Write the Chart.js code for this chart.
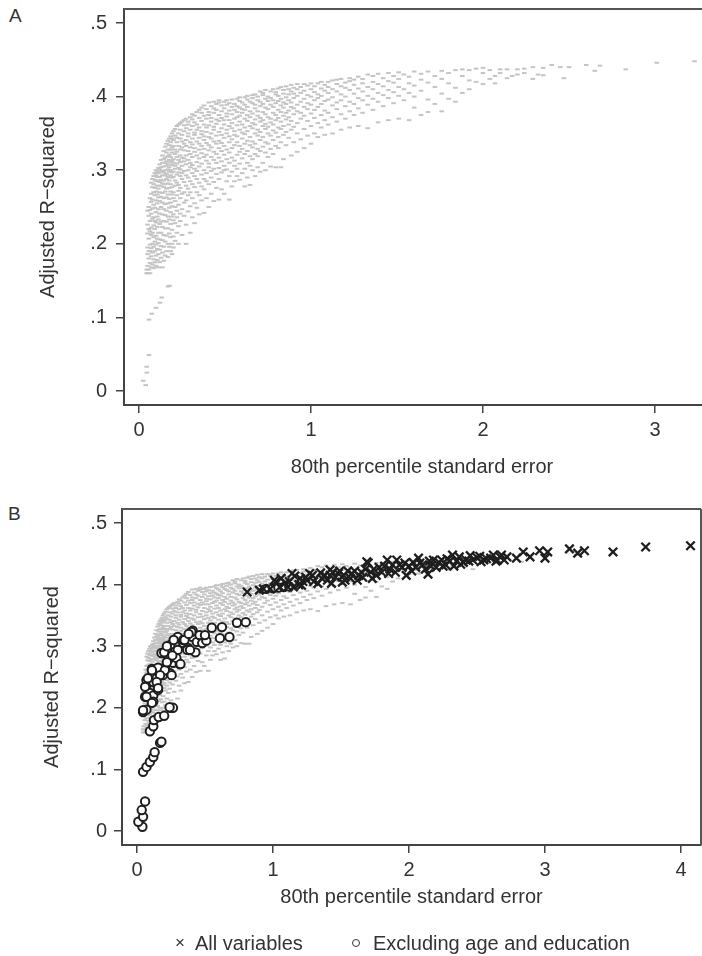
<!DOCTYPE html>
<html>
<head>
<meta charset="utf-8">
<script src="https://cdn.jsdelivr.net/npm/chart.js@4.4.1/dist/chart.umd.min.js"></script>
<style>
  body { margin: 0; width: 702px; height: 956px; overflow: hidden; background: #fff; position: relative;
         font-family: "Liberation Sans", Arial, sans-serif; color: #333; }
  .panel { position: absolute; font-size: 19px; }
  .lg { position: absolute; font-size: 20px; line-height: 24px; top: 931px; }
  .cross { position: absolute; top: 932px; font-size: 17px; line-height: 22px; }
  .ring { position: absolute; top: 939px; width: 6px; height: 6px; border: 1.6px solid #333; border-radius: 50%; }
</style>
</head>
<body>
<div class="panel" style="left:9px;top:5px">A</div>
<div style="position:absolute;left:0;top:0;width:702px;height:480px;overflow:hidden">
  <canvas id="chartA" width="720" height="480"></canvas>
</div>
<div class="panel" style="left:8px;top:503px">B</div>
<canvas id="chartB" width="702" height="476" style="position:absolute;left:0;top:480px"></canvas>
<span class="cross" style="left:175px">×</span><span class="lg" style="left:195px">All variables</span>
<span class="ring" style="left:352px"></span><span class="lg" style="left:373px">Excluding age and education</span>
<script>
// every model: [x, adjusted R-squared values of the models at that x]
const allModels = [
  [0.025, [0.014]], [0.039, [0.008]], [0.045, [0.025, 0.033, 0.16, 0.165]],
  [0.058, [0.049, 0.097]], [0.074, [0.105]], [0.099, [0.113]], [0.122, [0.12]],
  [0.132, [0.127]], [0.169, [0.142]], [0.178, [0.143]],
  [0.050, [0.16, 0.17, 0.186, 0.195, 0.214, 0.226, 0.245]],
  [0.057, [0.165, 0.18, 0.19, 0.207, 0.22, 0.238, 0.25]],
  [0.064, [0.16, 0.174, 0.19, 0.199, 0.217, 0.231, 0.246, 0.262]],
  [0.071, [0.168, 0.183, 0.194, 0.212, 0.222, 0.241, 0.257, 0.268, 0.283]],
  [0.078, [0.172, 0.188, 0.2, 0.215, 0.234, 0.248, 0.26, 0.277, 0.288]],
  [0.085, [0.167, 0.179, 0.196, 0.209, 0.225, 0.236, 0.253, 0.27, 0.281, 0.292]],
  [0.092, [0.175, 0.19, 0.203, 0.22, 0.231, 0.249, 0.266, 0.276, 0.287, 0.296]],
  [0.099, [0.17, 0.184, 0.199, 0.211, 0.229, 0.243, 0.259, 0.271, 0.285, 0.293, 0.3]],
  [0.106, [0.178, 0.193, 0.207, 0.223, 0.237, 0.255, 0.267, 0.279, 0.291, 0.298]],
  [0.113, [0.168, 0.186, 0.201, 0.215, 0.233, 0.247, 0.263, 0.275, 0.286, 0.296, 0.303]],
  [0.120, [0.175, 0.192, 0.206, 0.227, 0.241, 0.258, 0.27, 0.284, 0.291, 0.301, 0.308]],
  [0.128, [0.181, 0.197, 0.215, 0.23, 0.25, 0.264, 0.279, 0.287, 0.298, 0.304, 0.314]],
  [0.136, [0.168, 0.188, 0.205, 0.223, 0.24, 0.256, 0.269, 0.282, 0.293, 0.299, 0.31, 0.32]],
  [0.144, [0.177, 0.196, 0.212, 0.231, 0.247, 0.262, 0.277, 0.286, 0.297, 0.305, 0.315, 0.326]],
  [0.152, [0.184, 0.203, 0.221, 0.239, 0.254, 0.271, 0.281, 0.293, 0.3, 0.31, 0.317, 0.332]],
  [0.160, [0.19, 0.211, 0.23, 0.245, 0.263, 0.275, 0.288, 0.295, 0.306, 0.312, 0.324, 0.336]],
  [0.168, [0.182, 0.2, 0.221, 0.237, 0.255, 0.267, 0.282, 0.291, 0.301, 0.308, 0.319, 0.328, 0.34]],
  [0.176, [0.196, 0.214, 0.233, 0.249, 0.261, 0.276, 0.286, 0.298, 0.304, 0.314, 0.321, 0.334, 0.343]],
  [0.184, [0.19, 0.209, 0.227, 0.243, 0.256, 0.271, 0.281, 0.293, 0.3, 0.311, 0.318, 0.328, 0.338, 0.346]],
  [0.192, [0.186, 0.2, 0.219, 0.237, 0.251, 0.267, 0.277, 0.29, 0.297, 0.307, 0.313, 0.324, 0.331, 0.343, 0.35]],
  [0.200, [0.195, 0.21, 0.232, 0.24, 0.262, 0.27, 0.291, 0.298, 0.31, 0.315, 0.333, 0.341, 0.353]],
  [0.210, [0.204, 0.228, 0.25, 0.258, 0.279, 0.286, 0.302, 0.306, 0.322, 0.328, 0.347, 0.356]],
  [0.220, [0.215, 0.236, 0.245, 0.266, 0.283, 0.294, 0.309, 0.318, 0.325, 0.338, 0.344, 0.36]],
  [0.230, [0.2, 0.224, 0.253, 0.272, 0.28, 0.297, 0.303, 0.314, 0.333, 0.35, 0.362]],
  [0.240, [0.231, 0.241, 0.262, 0.276, 0.292, 0.301, 0.311, 0.32, 0.328, 0.343, 0.355, 0.364]],
  [0.250, [0.212, 0.247, 0.268, 0.288, 0.296, 0.306, 0.317, 0.331, 0.339, 0.348, 0.366]],
  [0.262, [0.238, 0.256, 0.27, 0.284, 0.299, 0.312, 0.316, 0.327, 0.336, 0.353, 0.361, 0.368]],
  [0.274, [0.2, 0.226, 0.259, 0.279, 0.293, 0.308, 0.32, 0.333, 0.341, 0.357, 0.37]],
  [0.286, [0.244, 0.266, 0.275, 0.29, 0.3, 0.314, 0.326, 0.346, 0.35, 0.362, 0.366]],
  [0.298, [0.215, 0.251, 0.27, 0.285, 0.304, 0.31, 0.322, 0.331, 0.338, 0.355, 0.372]],
  [0.310, [0.236, 0.262, 0.281, 0.296, 0.307, 0.318, 0.335, 0.343, 0.36, 0.369, 0.376]],
  [0.323, [0.228, 0.255, 0.277, 0.292, 0.302, 0.325, 0.33, 0.348, 0.351, 0.365, 0.374]],
  [0.336, [0.249, 0.27, 0.288, 0.299, 0.311, 0.32, 0.339, 0.355, 0.362, 0.379]],
  [0.350, [0.24, 0.266, 0.283, 0.305, 0.316, 0.328, 0.336, 0.344, 0.358, 0.371, 0.382]],
  [0.364, [0.259, 0.278, 0.294, 0.309, 0.323, 0.333, 0.349, 0.353, 0.367, 0.378, 0.385]],
  [0.378, [0.242, 0.274, 0.288, 0.3, 0.318, 0.329, 0.341, 0.346, 0.362, 0.374, 0.388]],
  [0.392, [0.262, 0.285, 0.296, 0.313, 0.321, 0.337, 0.352, 0.358, 0.37, 0.383]],
  [0.406, [0.25, 0.281, 0.304, 0.309, 0.327, 0.334, 0.345, 0.361, 0.375, 0.379, 0.392]],
  [0.420, [0.268, 0.29, 0.299, 0.318, 0.331, 0.343, 0.35, 0.366, 0.371, 0.387]],
  [0.435, [0.258, 0.284, 0.302, 0.314, 0.325, 0.339, 0.355, 0.359, 0.378, 0.384, 0.393]],
  [0.450, [0.276, 0.295, 0.31, 0.322, 0.336, 0.347, 0.363, 0.369, 0.382, 0.39]],
  [0.465, [0.26, 0.288, 0.303, 0.317, 0.33, 0.34, 0.352, 0.367, 0.375, 0.392, 0.395]],
  [0.480, [0.274, 0.297, 0.312, 0.326, 0.337, 0.348, 0.357, 0.371, 0.38, 0.388]],
  [0.495, [0.268, 0.3, 0.306, 0.321, 0.333, 0.344, 0.362, 0.368, 0.384, 0.393]],
  [0.510, [0.285, 0.301, 0.315, 0.328, 0.35, 0.355, 0.373, 0.377, 0.389, 0.395]],
  [0.525, [0.26, 0.292, 0.31, 0.324, 0.338, 0.346, 0.36, 0.368, 0.381, 0.391]],
  [0.540, [0.278, 0.298, 0.317, 0.33, 0.342, 0.357, 0.364, 0.376, 0.386, 0.396]],
  [0.555, [0.285, 0.306, 0.313, 0.334, 0.348, 0.353, 0.37, 0.382, 0.39]],
  [0.570, [0.292, 0.302, 0.321, 0.338, 0.346, 0.361, 0.372, 0.379, 0.387, 0.397]],
  [0.585, [0.287, 0.309, 0.325, 0.333, 0.355, 0.366, 0.374, 0.385, 0.394, 0.399]],
  [0.600, [0.296, 0.316, 0.329, 0.343, 0.351, 0.362, 0.378, 0.383, 0.392]],
  [0.615, [0.278, 0.302, 0.322, 0.336, 0.349, 0.358, 0.37, 0.382, 0.389, 0.399]],
  [0.630, [0.29, 0.31, 0.326, 0.34, 0.353, 0.367, 0.375, 0.386, 0.396, 0.401]],
  [0.645, [0.28, 0.306, 0.319, 0.334, 0.345, 0.36, 0.372, 0.38, 0.393]],
  [0.660, [0.3, 0.315, 0.331, 0.339, 0.357, 0.364, 0.377, 0.391, 0.398, 0.402]],
  [0.675, [0.292, 0.322, 0.336, 0.35, 0.362, 0.369, 0.384, 0.389, 0.403]],
  [0.690, [0.304, 0.319, 0.329, 0.347, 0.355, 0.374, 0.38, 0.395, 0.4]],
  [0.705, [0.298, 0.326, 0.341, 0.352, 0.366, 0.371, 0.387, 0.393, 0.407]],
  [0.720, [0.31, 0.332, 0.345, 0.36, 0.368, 0.379, 0.39, 0.402, 0.405]],
  [0.735, [0.3, 0.324, 0.338, 0.356, 0.363, 0.376, 0.385, 0.397, 0.409]],
  [0.750, [0.318, 0.336, 0.35, 0.359, 0.372, 0.383, 0.394, 0.4]],
  [0.765, [0.305, 0.329, 0.347, 0.365, 0.37, 0.389, 0.398, 0.407]],
  [0.780, [0.322, 0.341, 0.354, 0.362, 0.378, 0.386, 0.395, 0.41]],
  [0.795, [0.304, 0.333, 0.351, 0.368, 0.375, 0.391, 0.403, 0.406]],
  [0.810, [0.33, 0.345, 0.358, 0.371, 0.382, 0.394, 0.401, 0.411]],
  [0.825, [0.304, 0.338, 0.356, 0.366, 0.379, 0.388, 0.397, 0.413]],
  [0.840, [0.315, 0.348, 0.36, 0.374, 0.385, 0.392, 0.404, 0.409]],
  [0.855, [0.334, 0.352, 0.369, 0.378, 0.39, 0.399, 0.414]],
  [0.870, [0.344, 0.362, 0.372, 0.381, 0.395, 0.403, 0.41]],
  [0.885, [0.32, 0.355, 0.367, 0.386, 0.392, 0.407, 0.416]],
  [0.900, [0.338, 0.359, 0.376, 0.384, 0.398, 0.404, 0.412]],
  [0.920, [0.325, 0.35, 0.364, 0.38, 0.389, 0.401, 0.41, 0.417]],
  [0.940, [0.342, 0.37, 0.378, 0.393, 0.405, 0.413]],
  [0.960, [0.33, 0.356, 0.374, 0.386, 0.397, 0.408, 0.417]],
  [0.980, [0.347, 0.367, 0.383, 0.391, 0.402, 0.415]],
  [1.000, [0.336, 0.36, 0.377, 0.389, 0.4, 0.41, 0.418]],
  [1.020, [0.35, 0.371, 0.382, 0.395, 0.406, 0.414]],
  [1.040, [0.345, 0.364, 0.386, 0.398, 0.403, 0.418]],
  [1.060, [0.358, 0.375, 0.39, 0.401, 0.411, 0.42]],
  [1.080, [0.348, 0.368, 0.381, 0.394, 0.408, 0.416]],
  [1.100, [0.362, 0.378, 0.396, 0.405, 0.413, 0.42]],
  [1.125, [0.35, 0.372, 0.388, 0.399, 0.41, 0.422]],
  [1.150, [0.366, 0.383, 0.392, 0.407, 0.417, 0.423]],
  [1.175, [0.355, 0.376, 0.395, 0.403, 0.414, 0.424]],
  [1.200, [0.37, 0.387, 0.4, 0.412, 0.419]],
  [1.225, [0.358, 0.38, 0.393, 0.409, 0.421, 0.425]],
  [1.250, [0.375, 0.39, 0.404, 0.416, 0.423]],
  [1.275, [0.36, 0.384, 0.398, 0.411, 0.427]],
  [1.300, [0.378, 0.395, 0.407, 0.418, 0.424]],
  [1.330, [0.357, 0.389, 0.401, 0.413, 0.43]],
  [1.360, [0.382, 0.397, 0.41, 0.42, 0.428]],
  [1.390, [0.365, 0.393, 0.405, 0.417, 0.431]],
  [1.420, [0.387, 0.402, 0.414, 0.425]],
  [1.450, [0.368, 0.398, 0.409, 0.421, 0.432]],
  [1.480, [0.391, 0.406, 0.419, 0.428]],
  [1.510, [0.37, 0.401, 0.413, 0.424, 0.433]],
  [1.540, [0.395, 0.41, 0.43]],
  [1.570, [0.368, 0.405, 0.418, 0.427]],
  [1.600, [0.385, 0.4, 0.415, 0.434]],
  [1.640, [0.375, 0.408, 0.423, 0.431]],
  [1.680, [0.379, 0.396, 0.419, 0.434]],
  [1.720, [0.39, 0.413, 0.428]],
  [1.760, [0.38, 0.404, 0.424, 0.435]],
  [1.800, [0.397, 0.418, 0.432]],
  [1.840, [0.393, 0.412, 0.436]],
  [1.880, [0.405, 0.428, 0.437]],
  [1.920, [0.41, 0.422, 0.436]],
  [1.960, [0.42, 0.438]],
  [2.000, [0.417, 0.432, 0.439]],
  [2.040, [0.424, 0.436]], [2.070, [0.418, 0.428]], [2.100, [0.432, 0.437]],
  [2.140, [0.425, 0.437]], [2.170, [0.428]], [2.200, [0.43, 0.437]], [2.240, [0.432, 0.438]],
  [2.290, [0.424, 0.44]], [2.320, [0.43]], [2.350, [0.429, 0.439]], [2.400, [0.443]],
  [2.450, [0.44]], [2.470, [0.425]], [2.500, [0.44]], [2.600, [0.443]], [2.650, [0.435]],
  [2.680, [0.442]], [2.830, [0.437]], [3.010, [0.446]], [3.230, [0.448]]
];

// models with all variables
const allVariables = [
  [0.81, 0.388], [0.90, 0.391], [0.93, 0.393], [0.98, 0.393], [1.01, 0.407], [1.02, 0.404],
  [1.05, 0.396], [1.06, 0.41], [1.09, 0.403], [1.11, 0.396], [1.12, 0.405], [1.14, 0.418],
  [1.15, 0.396], [1.16, 0.414], [1.19, 0.4], [1.2, 0.41], [1.21, 0.399], [1.22, 0.405],
  [1.24, 0.412], [1.25, 0.407], [1.27, 0.418], [1.29, 0.415], [1.3, 0.405], [1.33, 0.402],
  [1.35, 0.419], [1.36, 0.41], [1.38, 0.415], [1.40, 0.407], [1.42, 0.415], [1.42, 0.424],
  [1.43, 0.402], [1.44, 0.42], [1.46, 0.412], [1.48, 0.418], [1.49, 0.422], [1.51, 0.404],
  [1.52, 0.415], [1.53, 0.407], [1.55, 0.422], [1.57, 0.41], [1.58, 0.418], [1.6, 0.422],
  [1.62, 0.407], [1.63, 0.415], [1.65, 0.42], [1.66, 0.412], [1.68, 0.425], [1.69, 0.437],
  [1.70, 0.435], [1.72, 0.42], [1.73, 0.41], [1.74, 0.425], [1.76, 0.415], [1.78, 0.428],
  [1.8, 0.42], [1.82, 0.43], [1.84, 0.44], [1.85, 0.418], [1.86, 0.425], [1.88, 0.432],
  [1.9, 0.42], [1.91, 0.44], [1.93, 0.432], [1.95, 0.428], [1.97, 0.435], [1.98, 0.415],
  [2.0, 0.43], [2.02, 0.422], [2.03, 0.436], [2.05, 0.428], [2.07, 0.443], [2.08, 0.435],
  [2.1, 0.432], [2.12, 0.425], [2.14, 0.417], [2.15, 0.438], [2.16, 0.43], [2.18, 0.44],
  [2.2, 0.428], [2.22, 0.436], [2.24, 0.44], [2.25, 0.43], [2.27, 0.432], [2.28, 0.442],
  [2.3, 0.438], [2.32, 0.448], [2.33, 0.43], [2.35, 0.438], [2.37, 0.445], [2.38, 0.433],
  [2.4, 0.436], [2.42, 0.44], [2.44, 0.438], [2.45, 0.447], [2.47, 0.44], [2.5, 0.444],
  [2.52, 0.446], [2.53, 0.437], [2.55, 0.44], [2.57, 0.442], [2.6, 0.443], [2.62, 0.448],
  [2.64, 0.438], [2.65, 0.44], [2.67, 0.445], [2.68, 0.448], [2.7, 0.44], [2.72, 0.445],
  [2.79, 0.443], [2.84, 0.453], [2.89, 0.445], [2.96, 0.455], [3.0, 0.443], [3.02, 0.453],
  [3.18, 0.458], [3.24, 0.451], [3.29, 0.455], [3.5, 0.453], [3.74, 0.461], [4.07, 0.463]
];

// models excluding age and education
const excludingAgeEdu = [
  [0.04, 0.007], [0.01, 0.015], [0.045, 0.023], [0.035, 0.034], [0.06, 0.048],
  [0.045, 0.096], [0.07, 0.104], [0.095, 0.112], [0.12, 0.12], [0.13, 0.128], [0.17, 0.143], [0.18, 0.145],
  [0.095, 0.162], [0.12, 0.17], [0.125, 0.18], [0.16, 0.185], [0.2, 0.187], [0.245, 0.2], [0.265, 0.2],
  [0.045, 0.193], [0.07, 0.197], [0.06, 0.218], [0.095, 0.224], [0.12, 0.22], [0.12, 0.21],
  [0.07, 0.237], [0.07, 0.245], [0.12, 0.242], [0.155, 0.229], [0.145, 0.248], [0.11, 0.263],
  [0.19, 0.253], [0.205, 0.265], [0.245, 0.256], [0.22, 0.273], [0.265, 0.273], [0.315, 0.271],
  [0.18, 0.289], [0.245, 0.302], [0.28, 0.291], [0.30, 0.315], [0.34, 0.305], [0.41, 0.325],
  [0.41, 0.315], [0.44, 0.307], [0.48, 0.305], [0.51, 0.309], [0.55, 0.33], [0.625, 0.331],
  [0.61, 0.313], [0.68, 0.315], [0.735, 0.338], [0.80, 0.339], [0.23, 0.278], [0.29, 0.281],
  [0.32, 0.271], [0.375, 0.297], [0.43, 0.29], [0.155, 0.265], [0.11, 0.261], [0.205, 0.261],
  [0.17, 0.253], [0.255, 0.253], [0.08, 0.248], [0.06, 0.234], [0.145, 0.242], [0.155, 0.232],
  [0.07, 0.218], [0.11, 0.208], [0.045, 0.196], [0.24, 0.201], [0.46, 0.318], [0.34, 0.31],
  [0.40, 0.323], [0.37, 0.294], [0.39, 0.294], [0.30, 0.294], [0.22, 0.274], [0.2, 0.29],
  [0.26, 0.285], [0.35, 0.31], [0.38, 0.32], [0.5, 0.318], [0.27, 0.31], [0.22, 0.3],
  [0.95, 0.393], [1.0, 0.394], [1.04, 0.395], [1.08, 0.396], [1.12, 0.397]
];

const yTicksLabel = v => (Math.abs(v) < 1e-9 ? '0' : v.toFixed(1).replace(/^0/, ''));

const grayPts = [];
allModels.forEach(([x, ys]) => ys.forEach(y => grayPts.push({x: x, y: y})));
const toPts = arr => arr.map(([x, y]) => ({x: x, y: y}));

Chart.defaults.font.family = '"Liberation Sans", Arial, sans-serif';
Chart.defaults.font.size = 20;
Chart.defaults.color = '#333';

// top edge of the plot region (and right edge when asked)
const frameLine = {
    id: 'frameLine',
    afterDatasetsDraw(chart, args, opts) {
        const {ctx, chartArea: a} = chart;
        ctx.save();
        ctx.strokeStyle = opts.color;
        ctx.lineWidth = opts.width;
        ctx.beginPath();
        ctx.moveTo(a.left, a.top);
        ctx.lineTo(a.right, a.top);
        if (opts.right) {
            ctx.moveTo(a.right, a.top);
            ctx.lineTo(a.right, a.bottom);
        }
        ctx.stroke();
        ctx.restore();
    }
};

function grayData() {
    return {
        label: 'All models',
        data: grayPts,
        pointStyle: 'line',
        radius: 2.3,
        borderWidth: 2,
        borderColor: '#c4c4c4',
        order: 3
    };
}

function makeScales(xMin, xMax, yMin, yMax, yWidth, xHeight, yTitlePad, labelPadY) {
    const axisGrid = {display: true, drawOnChartArea: false, drawTicks: true, tickLength: 8, color: '#444', lineWidth: 1.5};
    return {
        x: {
            type: 'linear', min: xMin, max: xMax,
            ticks: {stepSize: 1, includeBounds: false, padding: 5, maxRotation: 0},
            grid: axisGrid,
            border: {display: true, color: '#444', width: 2},
            title: {display: true, text: '80th percentile standard error', padding: {top: 0, bottom: 0}},
            afterFit: s => { s.height = xHeight; s.paddingLeft = 0; s.paddingRight = 0; }
        },
        y: {
            type: 'linear', min: yMin, max: yMax,
            ticks: {stepSize: 0.1, includeBounds: false, padding: labelPadY, callback: v => yTicksLabel(v)},
            grid: axisGrid,
            border: {display: true, color: '#444', width: 2},
            title: {display: true, text: 'Adjusted R\u2212squared', padding: {top: yTitlePad, bottom: 0}},
            afterFit: s => { s.width = yWidth; s.paddingTop = 0; s.paddingBottom = 0; }
        }
    };
}

new Chart(document.getElementById('chartA'), {
    type: 'scatter',
    data: {datasets: [grayData()]},
    options: {
        responsive: false,
        animation: false,
        layout: {autoPadding: false, padding: {top: 9, right: 0, bottom: 1, left: 0}},
        scales: makeScales(-0.0872, 3.378, -0.019, 0.519, 124, 74, 36, 9),
        plugins: {
            legend: {display: false},
            tooltip: {enabled: false},
            frameLine: {color: '#555', width: 2, right: false}
        }
    },
    plugins: [frameLine]
});

new Chart(document.getElementById('chartB'), {
    type: 'scatter',
    data: {
        datasets: [
            grayData(),
            {
                label: 'All variables',
                data: toPts(allVariables),
                pointStyle: 'crossRot',
                radius: 6,
                borderWidth: 2.3,
                borderColor: '#1e1e1e',
                order: 1
            },
            {
                label: 'Excluding age and education',
                data: toPts(excludingAgeEdu),
                pointStyle: 'circle',
                radius: 4.2,
                borderWidth: 2,
                borderColor: '#1e1e1e',
                backgroundColor: '#ffffff',
                order: 2
            }
        ]
    },
    options: {
        responsive: false,
        animation: false,
        layout: {autoPadding: false, padding: {top: 29, right: 1, bottom: 47, left: 0}},
        scales: makeScales(-0.110, 4.147, -0.0227, 0.5227, 122, 64, 40, 7),
        plugins: {
            legend: {display: false},
            tooltip: {enabled: false},
            frameLine: {color: '#555', width: 2, right: true}
        }
    },
    plugins: [frameLine]
});
</script>
</body>
</html>
